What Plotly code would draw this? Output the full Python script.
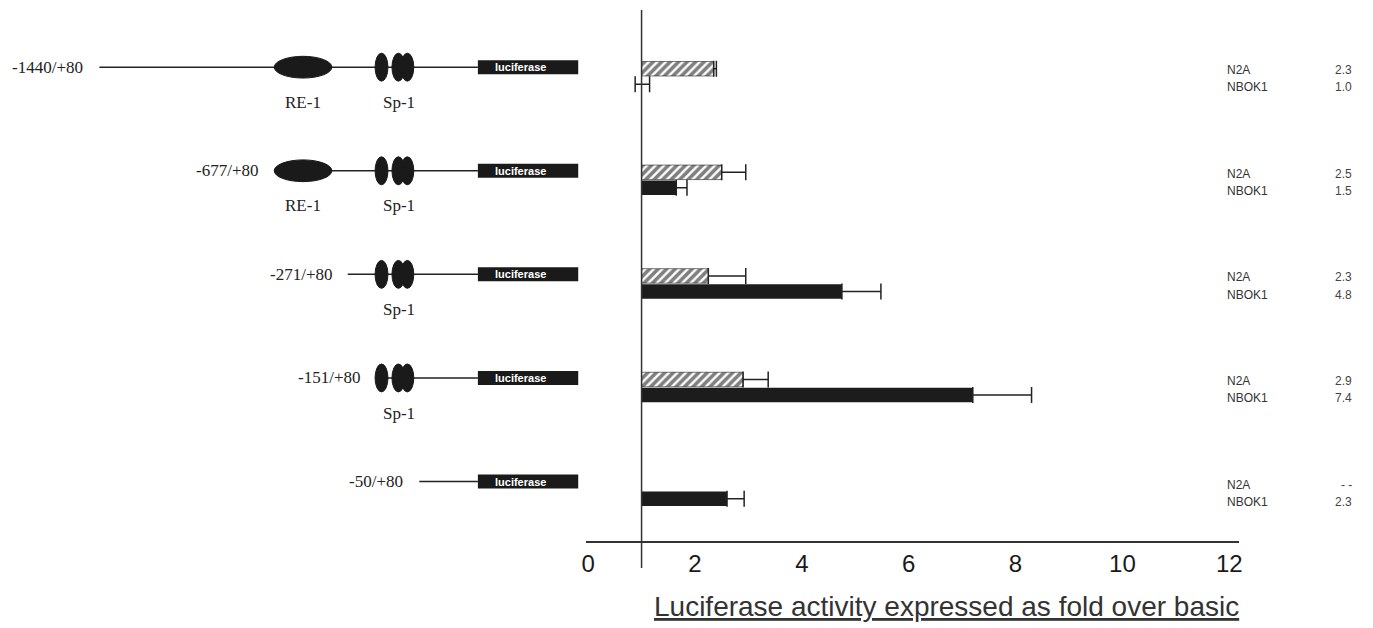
import plotly.graph_objects as go

# ---------------- data ----------------
constructs = ["-1440/+80", "-677/+80", "-271/+80", "-151/+80", "-50/+80"]
rows = [0, 1, 2, 3, 4]
n2a_fold = [2.35, 2.5, 2.25, 2.9, None]
n2a_err = [0.05, 0.45, 0.7, 0.47, None]
nbok1_fold = [1.0, 1.65, 4.75, 7.2, 2.6]
nbok1_err_plus = [0.15, 0.2, 0.73, 1.1, 0.32]
nbok1_err_minus = [0.12, 0, 0, 0, 0]
n2a_text = ["2.3", "2.5", "2.3", "2.9", "- -"]
nbok1_text = ["1.0", "1.5", "4.8", "7.4", "2.3"]
has_re1 = [True, True, False, False, False]
has_sp1 = [True, True, True, True, False]
x_ticks = [0, 2, 4, 6, 8, 10, 12]
x_title = "Luciferase activity expressed as fold over basic"
baseline = 1

# ------------- schematic geometry (diagram units = px) -------------
line_start = [95, 271, 345, 373, 417]
re1_center, re1_w, re1_h = 300, 58, 0.21
sp1_centers, sp1_w, sp1_h = [379, 396, 405], 13, 0.27
luc_x0, luc_x1, luc_h = 476, 577, 0.135
diag_dy = -0.09
label_dy = 0.25

W, H = 1373, 628
fig = go.Figure()

fig.add_trace(go.Bar(
    y=rows, x=[None if v is None else v - baseline for v in n2a_fold], base=baseline,
    orientation="h", width=0.14, offset=-0.145, name="N2A",
    marker=dict(color="white", line=dict(color="#222", width=0.6),
                pattern=dict(shape="/", fgcolor="#000000", bgcolor="white", size=6, solidity=0.6)),
    error_x=dict(type="data", array=n2a_err, arrayminus=[0] * 5, symmetric=False,
                 color="#222", thickness=1.5, width=8),
    xaxis="x", yaxis="y"))
fig.add_trace(go.Bar(
    y=rows, x=[v - baseline for v in nbok1_fold], base=baseline,
    orientation="h", width=0.14, offset=0.005, name="NBOK1",
    marker=dict(color="#1c1c1c", line=dict(width=0)),
    error_x=dict(type="data", array=nbok1_err_plus, arrayminus=nbok1_err_minus, symmetric=False,
                 color="#222", thickness=1.5, width=8),
    xaxis="x", yaxis="y"))

shapes = []
ann = []
# baseline vertical line at fold = 1
shapes.append(dict(type="line", xref="x", yref="paper", x0=baseline, x1=baseline,
                   y0=(H - 568) / H, y1=(H - 10) / H, line=dict(color="#333", width=1.5)))

serif = "Liberation Serif, Times New Roman, serif"
sans = "Liberation Sans, Arial, sans-serif"
for i, r in enumerate(rows):
    yc = r + diag_dy
    shapes.append(dict(type="line", xref="x2", yref="y", x0=line_start[i], x1=luc_x0, y0=yc, y1=yc,
                       line=dict(color="#222", width=1.5)))
    if has_re1[i]:
        shapes.append(dict(type="circle", xref="x2", yref="y", x0=re1_center - re1_w / 2,
                           x1=re1_center + re1_w / 2, y0=yc - re1_h / 2, y1=yc + re1_h / 2,
                           fillcolor="#1a1a1a", line=dict(color="#1a1a1a", width=1)))
        ann.append(dict(xref="x2", yref="y", x=re1_center, y=r + label_dy, text="RE-1", showarrow=False,
                        xanchor="center", yanchor="middle",
                        font=dict(family=serif, size=17, color="#222")))
    if has_sp1[i]:
        for c in sp1_centers:
            shapes.append(dict(type="circle", xref="x2", yref="y", x0=c - sp1_w / 2, x1=c + sp1_w / 2,
                               y0=yc - sp1_h / 2, y1=yc + sp1_h / 2,
                               fillcolor="#1a1a1a", line=dict(color="#1a1a1a", width=1)))
        ann.append(dict(xref="x2", yref="y", x=sum(sp1_centers[1:]) / 2 - 4, y=r + label_dy, text="Sp-1",
                        showarrow=False, xanchor="center", yanchor="middle",
                        font=dict(family=serif, size=17, color="#222")))
    shapes.append(dict(type="rect", xref="x2", yref="y", x0=luc_x0, x1=luc_x1,
                       y0=yc - luc_h / 2, y1=yc + luc_h / 2, fillcolor="#1a1a1a", line=dict(width=0)))
    ann.append(dict(xref="x2", yref="y", x=(luc_x0 + luc_x1) / 2 - 8, y=yc, text="<b>luciferase</b>",
                    showarrow=False, xanchor="center", yanchor="middle",
                    font=dict(family=sans, size=11, color="white")))
    ann.append(dict(xref="x2", yref="y", x=line_start[i] - 14, y=yc, xanchor="right", yanchor="middle",
                    text=constructs[i], showarrow=False, font=dict(family=serif, size=17, color="#222")))
    # right-hand labels
    for lab, txt, dy in (("N2A", n2a_text[i], -0.06), ("NBOK1", nbok1_text[i], 0.105)):
        ann.append(dict(xref="paper", yref="y", x=1228 / W, y=r + dy, xanchor="left", yanchor="middle",
                        text=lab, showarrow=False, font=dict(family=sans, size=12, color="#333")))
        ann.append(dict(xref="paper", yref="y", x=1358 / W, y=r + dy, xanchor="right", yanchor="middle",
                        text=txt, showarrow=False, font=dict(family=sans, size=12, color="#444")))

ann.append(dict(xref="paper", yref="paper", x=948 / W, y=(H - 606) / H, xanchor="center", yanchor="middle",
                text=x_title, showarrow=False,
                font=dict(family=sans, size=28, color="#333", lineposition="under")))

fig.update_layout(
    width=W, height=H, margin=dict(l=0, r=0, t=0, b=0),
    paper_bgcolor="white", plot_bgcolor="white", showlegend=False,
    xaxis=dict(domain=[585 / W, 1242 / W], range=[-0.037, 12.18], tickvals=x_ticks,
               showgrid=False, zeroline=False, showline=True, linecolor="#333", linewidth=1.5,
               ticks="", ticklabelstandoff=0,
               tickfont=dict(family=sans, size=24, color="#1a1a1a"), anchor="y"),
    xaxis2=dict(domain=[0, 585 / W], range=[0, 585], visible=False, anchor="y"),
    yaxis=dict(domain=[(H - 541) / H, (H - 10) / H], range=[4.484, -0.642], visible=False),
    shapes=shapes, annotations=ann,
)

fig.write_html("out.html")
